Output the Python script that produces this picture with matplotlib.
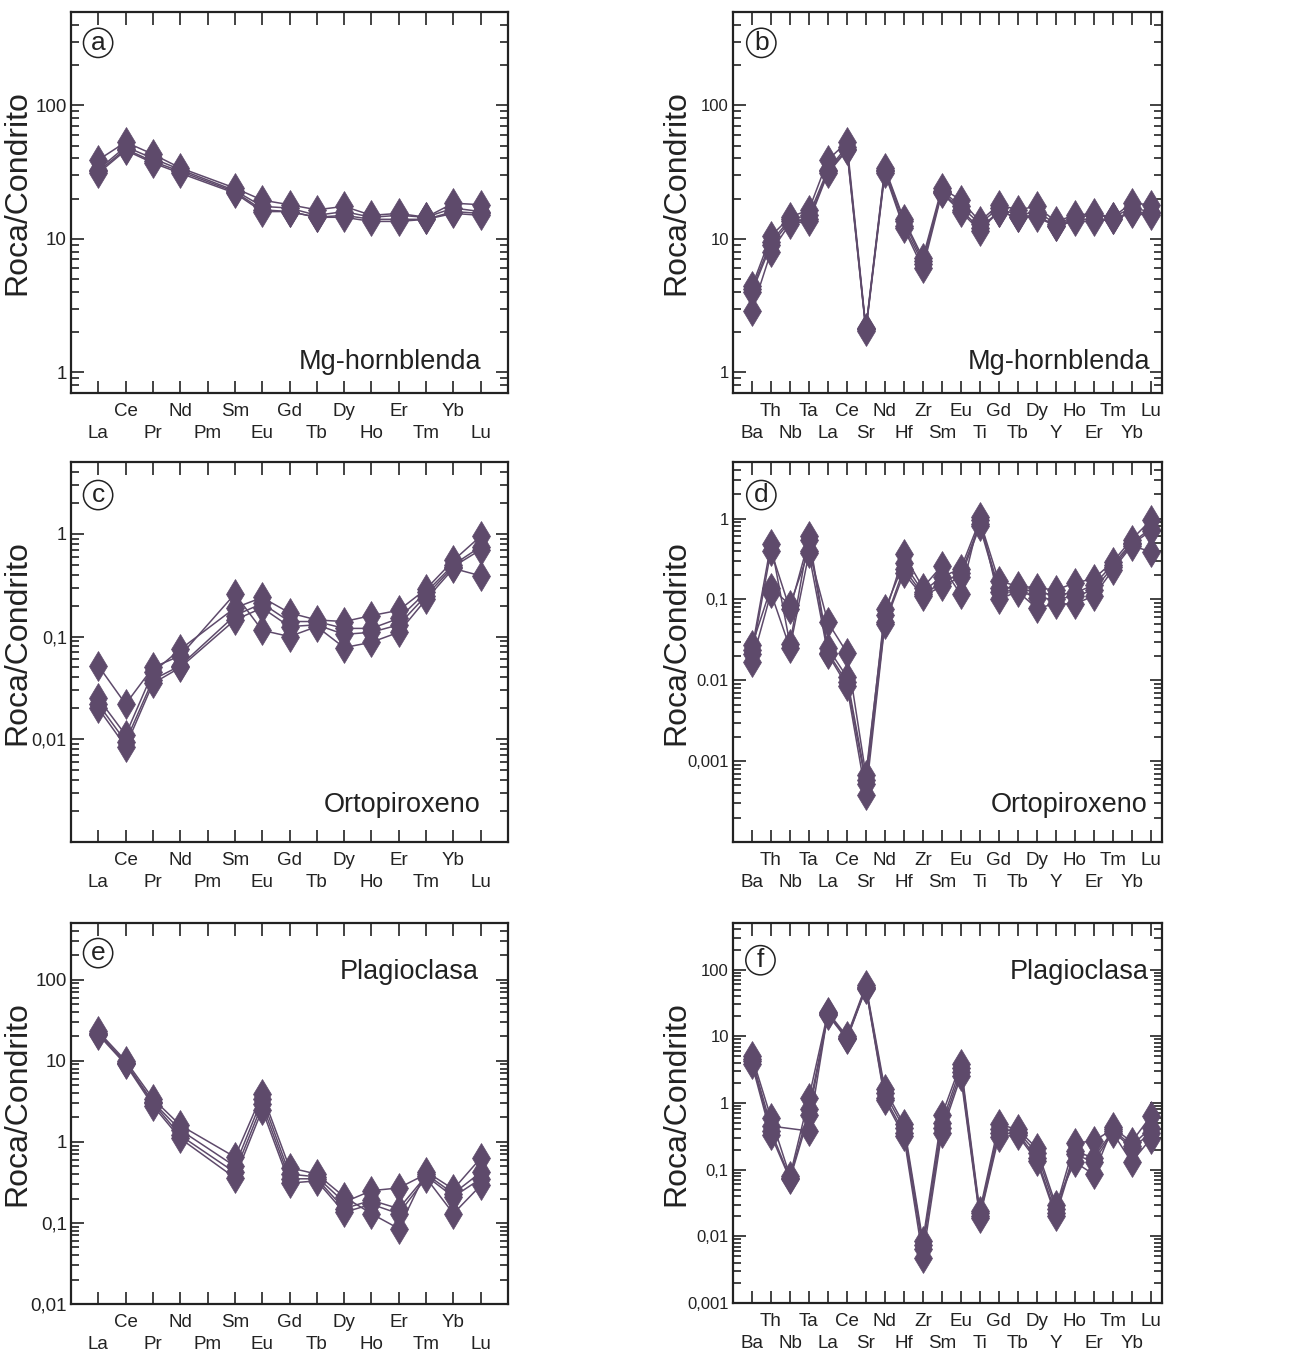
import numpy as np
import matplotlib
matplotlib.use('Agg')
import matplotlib.pyplot as plt
import matplotlib.ticker as ticker

plt.rcParams['font.family'] = ['Liberation Sans', 'DejaVu Sans']

nan = np.nan

# element orders
ree = ['La', 'Ce', 'Pr', 'Nd', 'Pm', 'Sm', 'Eu', 'Gd', 'Tb', 'Dy', 'Ho',
       'Er', 'Tm', 'Yb', 'Lu']
spider = ['Ba', 'Th', 'Nb', 'Ta', 'La', 'Ce', 'Sr', 'Nd', 'Hf', 'Zr', 'Sm',
          'Eu', 'Ti', 'Gd', 'Tb', 'Dy', 'Y', 'Ho', 'Er', 'Tm', 'Yb', 'Lu']

# (a) Mg-hornblenda, REE
hbl_ree = [
    [39, 53, 43, 34, nan, 24, 19.5, 18, 16.5, 17.5, 15, 15.5, 14.5, 18.5, 18],
    [33, 49, 40, 33, nan, 23, 17.5, 17, 15, 16, 14.5, 15, 14.5, 17, 16],
    [32, 47, 38, 32, nan, 22.5, 16.5, 16, 14.5, 15, 14, 14, 14, 16, 15.5],
    [31, 46, 37, 31, nan, 22, 16, 16, 14.5, 14.5, 13.5, 13.5, 14, 15.5, 15],
]

# (b) Mg-hornblenda, multielement
hbl_spider = [
    [4.4, 10.5, 14.5, 16.5, 39, 53, 2.15, 34, 14, 7.2, 24, 19.5, 13.5, 18,
     16.5, 17.5, 13.5, 15, 15.5, 14.5, 18.5, 18],
    [4.2, 9.5, 14, 15, 33, 49, 2.1, 33, 13.5, 6.8, 23, 17.5, 13, 17, 15, 16,
     13, 14.5, 15, 14.5, 17, 16],
    [4.0, 9, 13.5, 14, 32, 47, 2.1, 32, 12.5, 6.5, 22.5, 16.5, 12, 16, 14.5,
     15, 12.5, 14, 14, 14, 16, 15.5],
    [2.9, 8, 13, 13.5, 31, 46, 2.05, 31, 12, 6, 22, 16, 11.5, 16, 14.5, 14.5,
     12.5, 13.5, 13.5, 14, 15.5, 15],
]

# (c) Ortopiroxeno, REE
opx_ree = [
    [0.052, 0.022, 0.050, 0.065, nan, 0.26, 0.115, 0.10, 0.125, 0.078, 0.088,
     0.11, 0.23, 0.46, 0.39],
    [0.025, 0.011, 0.045, 0.075, nan, 0.19, 0.24, 0.17, 0.145, 0.14, 0.16,
     0.18, 0.29, 0.55, 0.95],
    [0.022, 0.0095, 0.038, 0.052, nan, 0.16, 0.21, 0.14, 0.14, 0.12, 0.12,
     0.15, 0.27, 0.50, 0.75],
    [0.020, 0.0085, 0.035, 0.050, nan, 0.145, 0.19, 0.125, 0.13, 0.105, 0.11,
     0.13, 0.25, 0.48, 0.70],
]

# (d) Ortopiroxeno, multielement
opx_spider = [
    [0.027, 0.14, 0.085, 0.40, 0.052, 0.022, 0.00068, 0.065, 0.36, 0.14, 0.26,
     0.115, 1.05, 0.10, 0.125, 0.078, 0.088, 0.088, 0.11, 0.23, 0.46, 0.39],
    [0.024, 0.49, 0.028, 0.60, 0.025, 0.011, 0.00058, 0.075, 0.28, 0.125,
     0.19, 0.24, 0.95, 0.17, 0.145, 0.14, 0.13, 0.16, 0.18, 0.29, 0.55, 0.95],
    [0.021, 0.40, 0.075, 0.55, 0.022, 0.0095, 0.00052, 0.052, 0.24, 0.115,
     0.16, 0.21, 0.85, 0.14, 0.14, 0.12, 0.115, 0.12, 0.15, 0.27, 0.50, 0.75],
    [0.017, 0.12, 0.025, 0.37, 0.021, 0.0085, 0.00038, 0.050, 0.21, 0.11,
     0.145, 0.19, 0.80, 0.125, 0.13, 0.105, 0.10, 0.11, 0.13, 0.25, 0.48, 0.70],
]

# (e) Plagioclasa, REE
plg_ree = [
    [23, 10, 3.4, 1.6, nan, 0.65, 3.9, 0.48, 0.40, 0.21, 0.13, 0.085, 0.43,
     0.26, 0.63],
    [22, 9.5, 3.1, 1.4, nan, 0.50, 3.4, 0.40, 0.37, 0.18, 0.25, 0.27, 0.40,
     0.23, 0.42],
    [21.5, 9.3, 3.0, 1.2, nan, 0.42, 2.9, 0.35, 0.35, 0.15, 0.19, 0.15, 0.38,
     0.21, 0.35],
    [21, 9.0, 2.8, 1.1, nan, 0.36, 2.5, 0.31, 0.33, 0.135, 0.17, 0.13, 0.36,
     0.13, 0.29],
]

# (f) Plagioclasa, multielement
plg_spider = [
    [5.0, 0.6, 0.08, 1.2, 23, 10, 58, 1.6, 0.48, 0.0085, 0.65, 3.9, 0.024,
     0.48, 0.40, 0.21, 0.03, 0.13, 0.085, 0.43, 0.26, 0.63],
    [4.5, 0.45, nan, 0.38, 22, 9.5, 55, 1.4, 0.42, 0.0075, 0.50, 3.4, 0.022,
     0.40, 0.37, 0.18, 0.026, 0.25, 0.27, 0.40, 0.23, 0.42],
    [4.2, 0.38, 0.075, 0.8, 21.5, 9.3, 53, 1.2, 0.36, 0.0065, 0.42, 2.9, 0.02,
     0.35, 0.35, 0.15, 0.022, 0.19, 0.15, 0.38, 0.21, 0.35],
    [3.8, 0.33, 0.072, 0.65, 21, 9.0, 52, 1.1, 0.32, 0.0048, 0.36, 2.5, 0.019,
     0.31, 0.33, 0.135, 0.02, 0.17, 0.13, 0.36, 0.13, 0.29],
]

# y axis settings per panel
ylims = {'a': (0.7, 500), 'b': (0.7, 500), 'c': (0.001, 5), 'd': (1e-4, 5),
         'e': (0.01, 500), 'f': (0.001, 500)}
yticks = {'a': [1, 10, 100], 'b': [1, 10, 100],
          'c': [0.01, 0.1, 1], 'd': [0.001, 0.01, 0.1, 1],
          'e': [0.01, 0.1, 1, 10, 100], 'f': [0.001, 0.01, 0.1, 1, 10, 100]}
yticklabels = {'a': ['1', '10', '100'], 'b': ['1', '10', '100'],
               'c': ['0,01', '0,1', '1'], 'd': ['0,001', '0.01', '0,1', '1'],
               'e': ['0,01', '0,1', '1', '10', '100'],
               'f': ['0,001', '0,01', '0,1', '1', '10', '100']}

panels = [
    ('a', hbl_ree, ree, 'Mg-hornblenda'),
    ('b', hbl_spider, spider, 'Mg-hornblenda'),
    ('c', opx_ree, ree, 'Ortopiroxeno'),
    ('d', opx_spider, spider, 'Ortopiroxeno'),
    ('e', plg_ree, ree, 'Plagioclasa'),
    ('f', plg_spider, spider, 'Plagioclasa'),
]

# axes boxes in pixels (left, top, right, bottom)
W, H = 1301, 1356
boxes = {'a': (71, 12, 508, 393), 'b': (733, 12, 1162, 393),
         'c': (71, 462, 508, 842), 'd': (733, 462, 1162, 842),
         'e': (71, 923, 508, 1304), 'f': (733, 923, 1162, 1303)}

# mineral name position (x right edge, y baseline) in axes fraction
name_pos = {'a': (0.94, 0.063), 'b': (0.972, 0.063),
            'c': (0.936, 0.08), 'd': (0.967, 0.08),
            'e': (0.932, 0.853), 'f': (0.968, 0.852)}
circle_pos = {'a': (0.062, 0.919), 'b': (0.066, 0.919),
              'c': (0.062, 0.913), 'd': (0.066, 0.913),
              'e': (0.062, 0.921), 'f': (0.064, 0.902)}
ytick_size = {'a': 13.5, 'b': 12, 'c': 13, 'd': 12, 'e': 13.5, 'f': 12}
ylabel_x = {'a': -0.088, 'b': -0.098, 'c': -0.088, 'd': -0.098,
            'e': -0.088, 'f': -0.098}

col = '#5e4a6b'
ink = '#222222'

fig = plt.figure(figsize=(W / 100, H / 100), dpi=100)

for key, data, elems, name in panels:
    l, t, r, b = boxes[key]
    ax = fig.add_axes([l / W, 1 - b / H, (r - l) / W, (b - t) / H])

    x = np.arange(len(elems))
    for sample in data:
        y = np.array(sample, dtype=float)
        ok = ~np.isnan(y)
        ax.plot(x[ok], y[ok], '-', color=col, lw=1.1,
                marker='d', ms=15, mfc=col, mec=col, mew=0.5)

    ax.set_yscale('log')
    ax.set_ylim(ylims[key])
    if len(elems) == 15:
        ax.set_xlim(-1, 15)
    else:
        ax.set_xlim(-1, 21.6)

    ax.set_yticks(yticks[key])
    ax.set_yticklabels(yticklabels[key])
    ax.yaxis.set_minor_locator(ticker.LogLocator(base=10,
                                                 subs=np.arange(2, 10),
                                                 numticks=50))
    ax.yaxis.set_minor_formatter(ticker.NullFormatter())

    # staggered element labels: odd on the upper row (major ticks),
    # even on the lower row (minor ticks with a bigger pad)
    ax.set_xticks(x[1::2])
    ax.set_xticklabels(elems[1::2], fontsize=13.5)
    ax.set_xticks(x[0::2], minor=True)
    ax.set_xticklabels(elems[0::2], minor=True, fontsize=13.5)

    ax.tick_params(which='both', direction='in', top=True, right=True,
                   width=1.2, color=ink, labelcolor=ink)
    ax.tick_params(which='major', length=9)
    ax.tick_params(axis='y', which='minor', length=6)
    ax.tick_params(axis='x', which='minor', length=9, pad=23)
    ax.tick_params(axis='x', which='major', pad=7)
    ax.tick_params(axis='y', labelsize=ytick_size[key], pad=3)

    for sp in ax.spines.values():
        sp.set_linewidth(1.6)
        sp.set_color(ink)

    ax.set_ylabel('Roca/Condrito', fontsize=23, color=ink)
    ax.yaxis.set_label_coords(ylabel_x[key], 0.525)

    nx, ny = name_pos[key]
    ax.text(nx, ny, name, transform=ax.transAxes, ha='right',
            va='baseline', fontsize=19.5, color=ink)

    cx, cy = circle_pos[key]
    ax.text(cx, cy, key, transform=ax.transAxes, ha='center', va='center',
            fontsize=19, color=ink,
            bbox=dict(boxstyle='circle,pad=0.1', fc='white', ec=ink,
                      lw=1.1))

fig.savefig('out.png', dpi=100)
